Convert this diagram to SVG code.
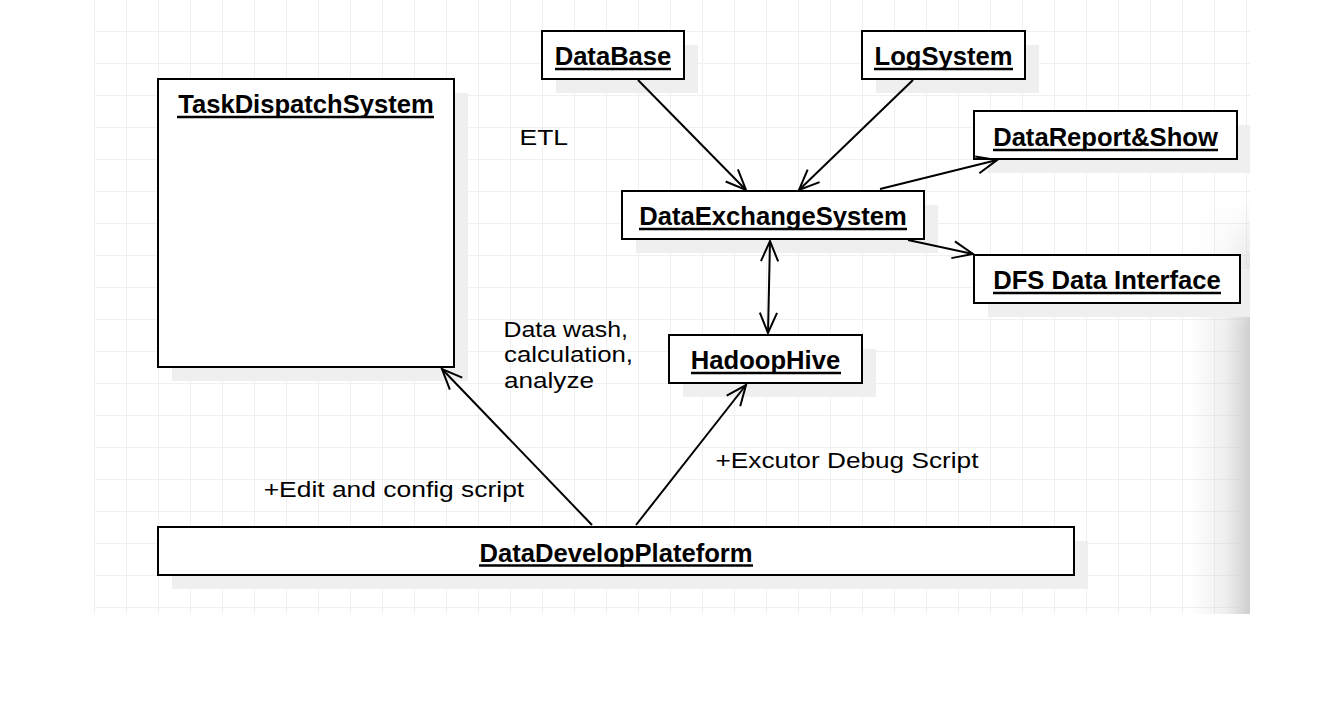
<svg xmlns="http://www.w3.org/2000/svg" width="1340" height="724" viewBox="0 0 1340 724">
<style>
.box{fill:#fff;stroke:#000;stroke-width:2}
.shd{fill:#efefef}
.ttl{font-family:"Liberation Sans",Arial,sans-serif;font-weight:bold;font-size:25.6px;fill:#000;text-anchor:middle}
.ul{stroke:#000;stroke-width:2.4}
.lbl{font-family:"Liberation Sans",Arial,sans-serif;font-size:22px;fill:#000}
.con{fill:none;stroke:#000;stroke-width:2}
</style>
<defs>
<pattern id="grid" x="94" y="-1" width="32" height="32" patternUnits="userSpaceOnUse">
<path d="M0.5 0 V32 M0 0.5 H32" fill="none" stroke="#f0f0f0" stroke-width="1"/>
</pattern>
<linearGradient id="edgeH" x1="1190" y1="0" x2="1250" y2="0" gradientUnits="userSpaceOnUse">
<stop offset="0" stop-color="#d0d0d0" stop-opacity="0"/>
<stop offset="0.6" stop-color="#d0d0d0" stop-opacity="0.35"/>
<stop offset="1" stop-color="#cfcfcf" stop-opacity="1"/>
</linearGradient>
<linearGradient id="edgeV" x1="0" y1="200" x2="0" y2="330" gradientUnits="userSpaceOnUse">
<stop offset="0" stop-color="#fff" stop-opacity="0"/>
<stop offset="1" stop-color="#fff" stop-opacity="1"/>
</linearGradient>
<mask id="edgeMask" maskUnits="userSpaceOnUse" x="1180" y="190" width="80" height="430">
<rect x="1180" y="190" width="80" height="430" fill="url(#edgeV)"/>
</mask>
<marker id="arr" viewBox="-24 -12 28 24" refX="0" refY="0" markerWidth="28" markerHeight="24" markerUnits="userSpaceOnUse" orient="auto-start-reverse">
<path d="M-20.3,-8.6 L0,0 L-20.3,8.6" fill="none" stroke="#000" stroke-width="2"/>
</marker>
</defs>

<g id="background">
<rect x="0" y="0" width="1340" height="724" fill="#fff"/>
<rect x="94" y="0" width="1156" height="614" fill="url(#grid)"/>
<rect x="1190" y="190" width="60" height="424" fill="url(#edgeH)" mask="url(#edgeMask)"/>
</g>

<g id="TaskDispatchSystem">
<rect class="shd" x="172" y="93" width="296" height="288"/>
<rect class="box" x="158" y="79" width="296" height="288"/>
<text class="ttl" x="306" y="113">TaskDispatchSystem</text>
<line class="ul" x1="177" y1="117" x2="434" y2="117"/>
</g>

<g id="DataBase">
<rect class="shd" x="556" y="45" width="142" height="48"/>
<rect class="box" x="542" y="31" width="142" height="48"/>
<text class="ttl" x="613" y="65">DataBase</text>
<line class="ul" x1="555" y1="69" x2="671" y2="69"/>
</g>

<g id="LogSystem">
<rect class="shd" x="876" y="45" width="163" height="48"/>
<rect class="box" x="862" y="31" width="163" height="48"/>
<text class="ttl" x="943.5" y="65">LogSystem</text>
<line class="ul" x1="874" y1="69" x2="1013" y2="69"/>
</g>

<g id="DataReportShow">
<rect class="shd" x="988" y="125" width="262" height="48"/>
<rect class="box" x="974" y="111" width="263" height="48"/>
<text class="ttl" x="1105.5" y="146">DataReport&amp;Show</text>
<line class="ul" x1="993" y1="150" x2="1218" y2="150"/>
</g>

<g id="DataExchangeSystem">
<rect class="shd" x="636" y="205" width="302" height="48"/>
<rect class="box" x="622" y="191" width="302" height="48"/>
<text class="ttl" x="773" y="225">DataExchangeSystem</text>
<line class="ul" x1="639" y1="229" x2="907" y2="229"/>
</g>

<g id="DFSDataInterface">
<rect class="shd" x="988" y="269" width="262" height="48"/>
<rect class="box" x="974" y="255" width="266" height="48"/>
<text class="ttl" x="1107" y="289">DFS Data Interface</text>
<line class="ul" x1="993" y1="293" x2="1221" y2="293"/>
</g>

<g id="HadoopHive">
<rect class="shd" x="683" y="349" width="193" height="48"/>
<rect class="box" x="669" y="335" width="193" height="48"/>
<text class="ttl" x="765.5" y="369">HadoopHive</text>
<line class="ul" x1="691" y1="373" x2="841" y2="373"/>
</g>

<g id="DataDevelopPlateform">
<rect class="shd" x="172" y="541" width="916" height="48"/>
<rect class="box" x="158" y="527" width="916" height="48"/>
<text class="ttl" x="616" y="561.5">DataDevelopPlateform</text>
<line class="ul" x1="479" y1="565.5" x2="753" y2="565.5"/>
</g>

<g id="connectors">
<line class="con" x1="638" y1="80" x2="746" y2="190" marker-end="url(#arr)"/>
<line class="con" x1="913" y1="80" x2="799" y2="190" marker-end="url(#arr)"/>
<line class="con" x1="880" y1="189" x2="997" y2="160" marker-end="url(#arr)"/>
<line class="con" x1="908" y1="240" x2="973" y2="254" marker-end="url(#arr)"/>
<line class="con" x1="770" y1="241" x2="768" y2="333" marker-start="url(#arr)" marker-end="url(#arr)"/>
<line class="con" x1="592" y1="525" x2="442" y2="369" marker-end="url(#arr)"/>
<line class="con" x1="636" y1="525" x2="746" y2="385" marker-end="url(#arr)"/>
</g>

<g id="labels">
<text class="lbl" x="519.5" y="145" textLength="48.5" lengthAdjust="spacingAndGlyphs">ETL</text>
<text class="lbl" x="503.5" y="336.7" textLength="124.5" lengthAdjust="spacingAndGlyphs">Data wash,</text>
<text class="lbl" x="504" y="362.3" textLength="129" lengthAdjust="spacingAndGlyphs">calculation,</text>
<text class="lbl" x="504" y="387.5" textLength="90" lengthAdjust="spacingAndGlyphs">analyze</text>
<text class="lbl" x="263.7" y="497.3" textLength="260.5" lengthAdjust="spacingAndGlyphs">+Edit and config script</text>
<text class="lbl" x="715.5" y="468.3" textLength="263" lengthAdjust="spacingAndGlyphs">+Excutor Debug Script</text>
</g>
</svg>
